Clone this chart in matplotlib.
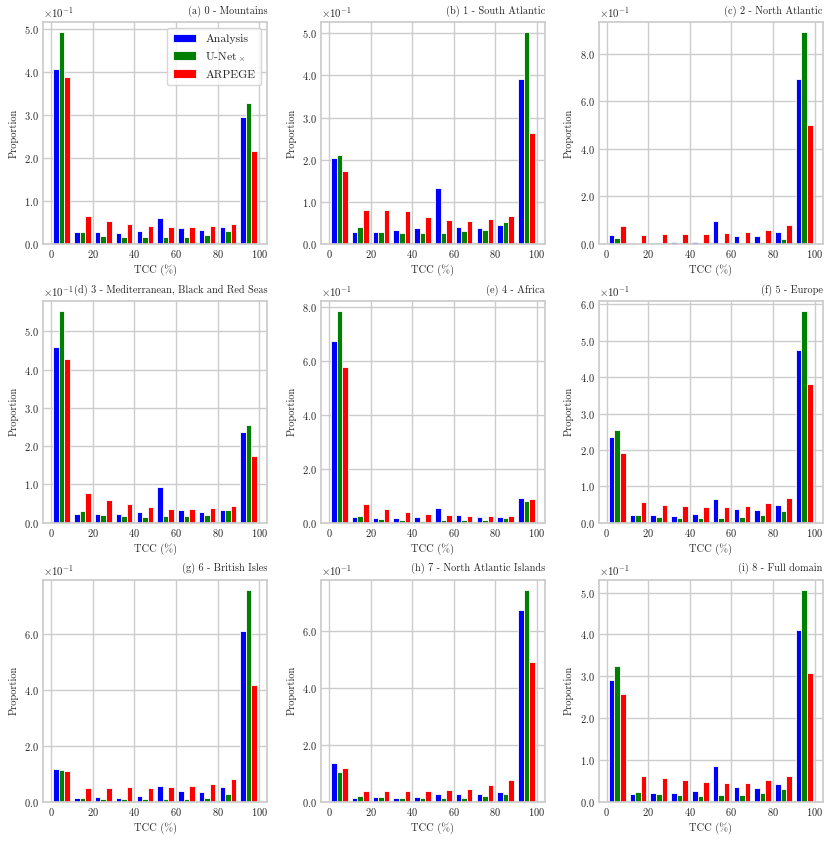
import numpy as np
import matplotlib
matplotlib.use('Agg')
import matplotlib.pyplot as plt
import matplotlib.ticker as ticker

# TCC bins (%)
bin_edges = np.arange(0, 101, 10)
series_names = ['Analysis', r'U-Net$_\times$', 'ARPEGE']
series_colors = ['blue', 'green', 'red']
panel_titles = ['(a) 0 - Mountains', '(b) 1 - South Atlantic', '(c) 2 - North Atlantic',
                '(d) 3 - Mediterranean, Black and Red Seas', '(e) 4 - Africa', '(f) 5 - Europe',
                '(g) 6 - British Isles', '(h) 7 - North Atlantic Islands', '(i) 8 - Full domain']

# proportions per bin, one row per region
analysis = [
    [0.407, 0.027, 0.027, 0.025, 0.030, 0.060, 0.038, 0.032, 0.039, 0.295],
    [0.204, 0.029, 0.029, 0.034, 0.037, 0.132, 0.041, 0.038, 0.045, 0.391],
    [0.036, 0.005, 0.005, 0.008, 0.008, 0.097, 0.034, 0.034, 0.050, 0.696],
    [0.460, 0.024, 0.023, 0.023, 0.027, 0.094, 0.033, 0.029, 0.034, 0.236],
    [0.675, 0.020, 0.019, 0.017, 0.022, 0.055, 0.028, 0.022, 0.022, 0.092],
    [0.235, 0.020, 0.021, 0.019, 0.024, 0.065, 0.038, 0.035, 0.048, 0.475],
    [0.118, 0.014, 0.017, 0.014, 0.021, 0.056, 0.038, 0.034, 0.052, 0.610],
    [0.135, 0.012, 0.016, 0.012, 0.016, 0.027, 0.027, 0.025, 0.035, 0.674],
    [0.291, 0.019, 0.020, 0.021, 0.025, 0.086, 0.036, 0.033, 0.042, 0.411],
]
unet = [
    [0.493, 0.028, 0.019, 0.015, 0.015, 0.015, 0.016, 0.020, 0.031, 0.329],
    [0.212, 0.040, 0.029, 0.027, 0.027, 0.027, 0.030, 0.034, 0.051, 0.502],
    [0.023, 0.003, 0.003, 0.002, 0.003, 0.004, 0.005, 0.010, 0.022, 0.890],
    [0.552, 0.030, 0.021, 0.018, 0.016, 0.017, 0.018, 0.021, 0.032, 0.256],
    [0.785, 0.024, 0.014, 0.010, 0.008, 0.009, 0.009, 0.012, 0.017, 0.080],
    [0.256, 0.021, 0.015, 0.013, 0.013, 0.014, 0.016, 0.020, 0.031, 0.581],
    [0.113, 0.013, 0.010, 0.009, 0.008, 0.010, 0.010, 0.014, 0.027, 0.756],
    [0.105, 0.021, 0.015, 0.012, 0.011, 0.011, 0.014, 0.018, 0.028, 0.744],
    [0.325, 0.024, 0.017, 0.015, 0.014, 0.015, 0.016, 0.020, 0.031, 0.506],
]
arpege = [
    [0.389, 0.064, 0.053, 0.046, 0.042, 0.040, 0.040, 0.042, 0.047, 0.216],
    [0.174, 0.080, 0.081, 0.077, 0.064, 0.057, 0.055, 0.059, 0.067, 0.264],
    [0.074, 0.039, 0.042, 0.043, 0.042, 0.044, 0.050, 0.060, 0.080, 0.500],
    [0.427, 0.077, 0.059, 0.048, 0.040, 0.037, 0.036, 0.038, 0.043, 0.173],
    [0.579, 0.068, 0.051, 0.041, 0.034, 0.028, 0.026, 0.025, 0.026, 0.089],
    [0.191, 0.056, 0.050, 0.046, 0.044, 0.044, 0.047, 0.055, 0.068, 0.381],
    [0.109, 0.048, 0.049, 0.052, 0.050, 0.051, 0.054, 0.064, 0.079, 0.418],
    [0.119, 0.038, 0.037, 0.037, 0.039, 0.042, 0.046, 0.057, 0.075, 0.491],
    [0.258, 0.062, 0.057, 0.052, 0.047, 0.045, 0.045, 0.051, 0.061, 0.307],
]


class OneDecimalFormatter(ticker.ScalarFormatter):
    def _set_format(self):
        self.format = '%1.1f'
        if self._useMathText:
            self.format = r'$\mathdefault{%s}$' % self.format


plt.rcParams['font.family'] = 'cmr10'
plt.rcParams['mathtext.fontset'] = 'cm'
plt.rcParams['axes.formatter.use_mathtext'] = True
plt.rcParams['axes.unicode_minus'] = False
plt.rcParams['axes.edgecolor'] = '0.8'
plt.rcParams['axes.linewidth'] = 1.25
plt.rcParams['grid.color'] = '0.8'
plt.rcParams['grid.linewidth'] = 1.0
plt.rcParams['text.color'] = '0.15'
plt.rcParams['axes.labelcolor'] = '0.15'
plt.rcParams['xtick.color'] = '0.15'
plt.rcParams['ytick.color'] = '0.15'

fig, axes = plt.subplots(3, 3, figsize=(8.31, 8.42), dpi=100)
fig.subplots_adjust(left=0.052, right=0.99, top=0.974, bottom=0.048, wspace=0.24, hspace=0.256)

width = 0.8 * 10 / 3
for i, ax in enumerate(axes.flat):
    for k, data in enumerate([analysis, unet, arpege]):
        ax.bar(bin_edges[:-1] + 1 + k * width, data[i], width=width, align='edge',
               color=series_colors[k], edgecolor='white', linewidth=0.6,
               label=series_names[k], zorder=2)
    ax.set_axisbelow(True)
    ax.grid(True)
    ax.tick_params(length=0, labelsize=7.5, pad=3)
    ax.xaxis.set_major_locator(ticker.MultipleLocator(20))
    ax.yaxis.set_major_locator(ticker.MaxNLocator(nbins=7, steps=[1, 2, 5, 10]))
    fmt = OneDecimalFormatter(useMathText=True)
    fmt.set_powerlimits((-1, -1))
    ax.yaxis.set_major_formatter(fmt)
    ax.yaxis.get_offset_text().set_fontsize(7.8)
    ax.set_xlabel('TCC (%)', fontsize=7.5, labelpad=3)
    ax.set_ylabel('Proportion', fontsize=7.5)
    ax.set_title(panel_titles[i], loc='right', fontsize=7.4, y=1.0, pad=6)

axes[0, 0].legend(loc='upper right', fontsize=8.4, fancybox=True, framealpha=0.8,
                  edgecolor='0.8', handlelength=2.0, borderpad=0.5)

plt.savefig('out.png', dpi=100)
